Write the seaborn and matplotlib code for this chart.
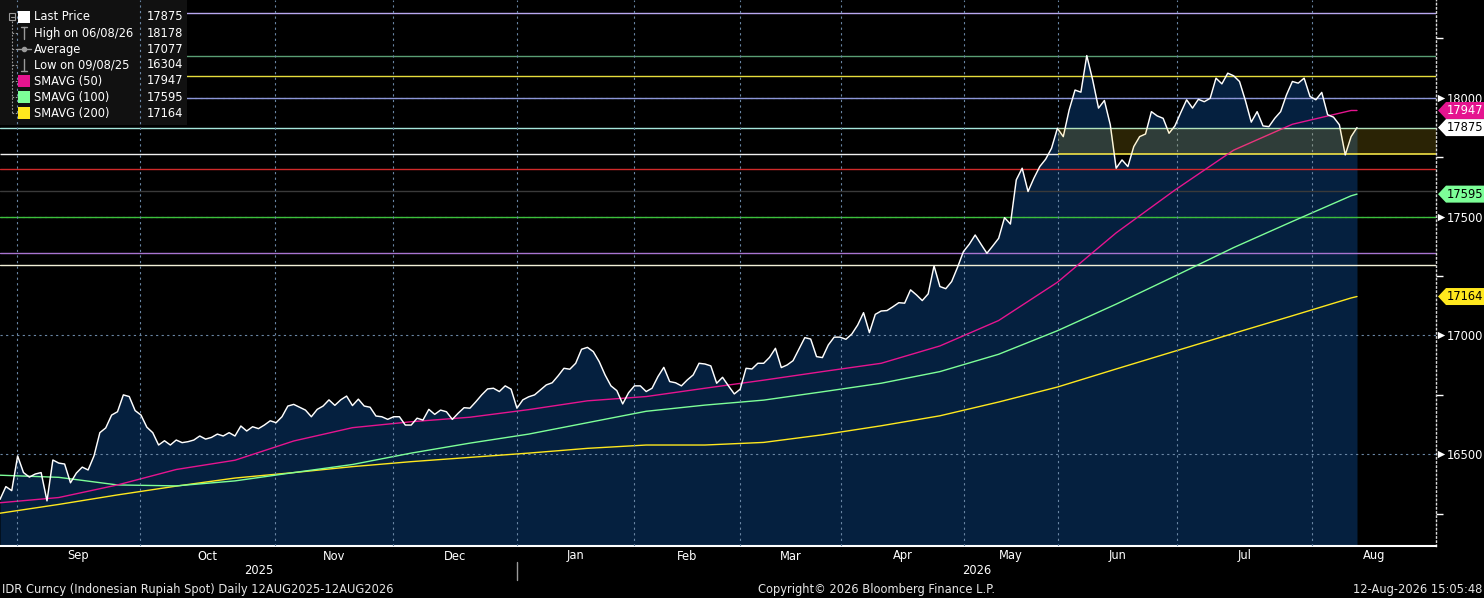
import numpy as np
import pandas as pd
import matplotlib
matplotlib.use("Agg")
import matplotlib.pyplot as plt
import seaborn as sns
from matplotlib.patches import Rectangle, Polygon
from matplotlib.lines import Line2D
from matplotlib.ticker import FixedLocator, NullFormatter

# IDR daily last price (one value per trading day)
price = [
    16310, 16364, 16347, 16493, 16423, 16404, 16417, 16423, 16304, 16476,
    16463, 16459, 16380, 16421, 16446, 16434, 16493, 16591, 16611, 16665,
    16679, 16750, 16743, 16684, 16665, 16614, 16591, 16539, 16557, 16539,
    16560, 16549, 16553, 16560, 16577, 16564, 16571, 16585, 16577, 16591,
    16577, 16619, 16598, 16616, 16608, 16623, 16641, 16633, 16658, 16703,
    16710, 16698, 16686, 16658, 16689, 16703, 16729, 16706, 16729, 16745,
    16705, 16732,
    16703, 16698, 16661, 16658, 16647, 16658, 16658, 16623, 16623, 16652,
    16644, 16689, 16668, 16686, 16679, 16647, 16673, 16696, 16694, 16721,
    16750, 16775, 16778, 16764, 16788, 16774, 16694, 16729, 16742, 16750,
    16771, 16792, 16801, 16830, 16862, 16858, 16883, 16942, 16950, 16932,
    16890, 16834, 16788, 16768, 16712, 16759, 16788, 16788, 16764, 16778,
    16827, 16866, 16806, 16801, 16788, 16813, 16834, 16883, 16880, 16872,
    16799, 16824, 16788, 16754, 16774, 16862, 16859, 16883, 16883, 16908,
    16946,
    16865, 16876, 16894, 16942, 16991, 16985, 16911, 16907, 16960, 16993,
    16993, 16984, 17006, 17044, 17096, 17012, 17089, 17103, 17105, 17121,
    17138, 17136, 17192, 17171, 17147, 17175, 17293, 17206, 17197, 17227,
    17287, 17353, 17384, 17423, 17384, 17346, 17377, 17409, 17496, 17469,
    17655, 17704, 17606, 17662, 17711, 17742,
    17788, 17872, 17837, 17949, 18033, 18024, 18178, 18076, 17957, 17989,
    17887, 17704, 17739, 17711, 17795, 17837, 17848, 17942, 17924, 17914,
    17851, 17882, 17938, 17992, 17957, 17994, 17984, 17998, 18083, 18059,
    18104, 18093, 18069, 17989, 17898, 17942, 17882, 17879, 17914, 17942,
    18013, 18069, 18062, 18083, 18006, 17992, 18023, 17929, 17919, 17887,
    17760, 17837, 17875,
]

# moving averages read every 10 trading days (plus the last day)
ma_days = list(range(0, len(price), 10)) + [len(price) - 1]
sma50 = [16296, 16318, 16371, 16436, 16475, 16556, 16612, 16637, 16656, 16688,
         16725, 16743, 16778, 16812, 16848, 16883, 16956, 17063, 17224, 17432,
         17612, 17780, 17889, 17947, 17947]
sma100 = [16412, 16403, 16371, 16367, 16388, 16423, 16457, 16505, 16547, 16585,
          16633, 16681, 16707, 16728, 16763, 16799, 16848, 16921, 17020, 17132,
          17250, 17370, 17480, 17588, 17595]
sma200 = [16252, 16289, 16329, 16366, 16400, 16423, 16448, 16469, 16487, 16505,
          16525, 16539, 16539, 16550, 16582, 16620, 16662, 16720, 16783, 16859,
          16934, 17009, 17083, 17158, 17164]

month_names = ["Sep", "Oct", "Nov", "Dec", "Jan", "Feb", "Mar", "Apr", "May",
               "Jun", "Jul", "Aug"]
month_starts = [2.9, 23.8, 46.8, 66.9, 88.0, 107.9, 126.0, 143.2, 164.1,
                180.1, 200.4, 223.3]
years = ["2025", "2026"]

# horizontal study lines (level, colour)
levels = [18358, 18178, 18093, 18000, 17875, 17702, 17609, 17500, 17348, 17297]
level_colors = ["#b8a8f0", "#5a9e74", "#e6dc3c", "#8c96d8", "#a6e6dc",
                "#d02a2a", "#3a3a3a", "#3cc03c", "#a874d0", "#f2f0d8"]
box_low, box_high = 17765, 17875

legend_labels = ["Last Price", "High on 06/08/26", "Average", "Low on 09/08/25",
                 "SMAVG (50)", "SMAVG (100)", "SMAVG (200)"]
legend_values = [17875, 18178, 17077, 16304, 17947, 17595, 17164]

C50, C100, C200 = "#e5148f", "#7dff98", "#ffe81e"
FILL = "#05203f"
GRID = "#6a86a4"

sns.set_theme(style="dark", rc={"axes.facecolor": "black",
                                "figure.facecolor": "black"})
plt.rcParams["font.family"] = ["DejaVu Sans"]
FS = 8.3

W, H = 1484, 598
fig = plt.figure(figsize=(W / 100, H / 100), dpi=100)
ax = fig.add_axes([0, 52 / H, 1436 / W, 546 / H])
ax.set_facecolor("black")


def fx(px):
    return px / W


def fy(py):
    return 1 - py / H


N = len(price)
x_max = (N - 1) * 1436 / 1357
y0, y1 = 16114, 18412
days = np.arange(N)
df = pd.DataFrame({"day": days, "price": price})
ma = pd.DataFrame({"day": ma_days, "s50": sma50, "s100": sma100, "s200": sma200})

# area under price
ax.fill_between(df["day"], df["price"], y0, color=FILL, lw=0, zorder=1)

# dotted grid
for v in [16500, 17000, 17500, 18000]:
    ax.axhline(v, color=GRID, lw=0.8, ls=(0, (2, 3)), zorder=1.5)
for m in month_starts:
    ax.axvline(m, color=GRID, lw=0.8, ls=(0, (2, 3)), zorder=9)

# study lines
for v, c in zip(levels, level_colors):
    ax.axhline(v, color=c, lw=1.0, zorder=2)
box_start = month_starts[9]
ax.hlines(box_low, 0, box_start, color="#f0f0f0", lw=1.0, zorder=2)
ax.hlines(box_low, box_start, x_max, color="#f0e44a", lw=1.2, zorder=2)
ax.fill_between([box_start, x_max], box_low, box_high, color="#ffd21e",
                alpha=0.17, lw=0, zorder=11)

# moving averages and price
sns.lineplot(data=ma, x="day", y="s200", ax=ax, color=C200, lw=1.0, zorder=3)
sns.lineplot(data=ma, x="day", y="s100", ax=ax, color=C100, lw=1.0, zorder=3)
sns.lineplot(data=ma, x="day", y="s50", ax=ax, color=C50, lw=1.0, zorder=3)
sns.lineplot(data=df, x="day", y="price", ax=ax, color="white", lw=1.05, zorder=10)

ax.set_xlim(0, x_max)
ax.set_ylim(y0, y1)
ax.set_xlabel("")
ax.set_ylabel("")
ax.grid(False)

# spines
for s in ["left", "top"]:
    ax.spines[s].set_visible(False)
ax.spines["bottom"].set_color("white")
ax.spines["bottom"].set_linewidth(1.5)
ax.spines["right"].set_color("#d8d8d8")
ax.spines["right"].set_linestyle((0, (1, 2)))
ax.spines["right"].set_linewidth(1.0)

# x axis: month ticks and labels
ax.set_xticks(month_starts)
ax.xaxis.set_major_formatter(NullFormatter())
ax.tick_params(axis="x", colors="white", length=6, width=1, direction="out")
bounds = month_starts + [x_max]
xt = ax.get_xaxis_transform()
for i, name in enumerate(month_names):
    ax.text((bounds[i] + bounds[i + 1]) / 2, -10 / 546, name, transform=xt,
            ha="center", va="center", color="white", fontsize=FS)
ax.text(month_starts[4] / 2, -25 / 546, years[0], transform=xt,
        ha="center", va="center", color="white", fontsize=FS)
ax.text((month_starts[4] + x_max) / 2, -25 / 546, years[1], transform=xt,
        ha="center", va="center", color="white", fontsize=FS)
ax.plot([month_starts[4]] * 2, [-16 / 546, -34 / 546], transform=xt,
        color="#9a9a9a", lw=1, clip_on=False)

# y axis on the right
majors = [16500, 17000, 17500, 18000]
ax.yaxis.tick_right()
ax.yaxis.set_major_locator(FixedLocator(majors))
ax.yaxis.set_minor_locator(FixedLocator([16250, 16750, 17250, 17750, 18250]))
ax.tick_params(axis="y", which="major", length=0, pad=8, labelcolor="white",
               labelsize=FS)
ax.tick_params(axis="y", which="minor", length=5, width=1, color="white",
               direction="out", right=True)
yt = ax.get_yaxis_transform()
ax.scatter([1 + 5 / 1436] * len(majors), majors, marker=">", s=28, color="white",
           transform=yt, clip_on=False, zorder=12, lw=0)

# value tags
unit = (y1 - y0) / 546
for v, fc, tc in [(17947, C50, "white"), (17875, "white", "black"),
                  (17595, C100, "black"), (17164, C200, "black")]:
    h = 8.5 * unit
    xs = np.array([1438, 1446, 1484, 1484, 1446]) / 1436
    ys = [v, v + h, v + h, v - h, v - h]
    ax.add_patch(Polygon(np.column_stack([xs, ys]), closed=True, transform=yt,
                         fc=fc, ec="none", clip_on=False, zorder=13))
    ax.text(1447 / 1436, v, str(v), transform=yt, ha="left", va="center",
            color=tc, fontsize=FS, clip_on=False, zorder=14)

# legend panel
ax.add_patch(Rectangle((0, fy(125)), fx(187), 125 / H, transform=fig.transFigure,
                       fc="#111111", ec="none", zorder=8, clip_on=False))
rows = [16.7, 33.3, 49.3, 65, 81, 97.3, 113.3]
grey = "#9a9a9a"
fig.add_artist(Rectangle((fx(9), fy(20)), 6 / W, 7 / H, fill=False, ec=grey, lw=0.8))
fig.add_artist(Line2D([fx(10.5), fx(13.5)], [fy(16.5)] * 2, color=grey, lw=0.8))
fig.add_artist(Line2D([fx(12), fx(12)], [fy(21), fy(rows[-1])], color=grey,
                      lw=0.8, ls=(0, (1.5, 1.5))))
for i, (lab, val) in enumerate(zip(legend_labels, legend_values)):
    r = rows[i]
    if i > 0:
        fig.add_artist(Line2D([fx(12), fx(17)], [fy(r)] * 2, color=grey,
                              lw=0.8, ls=(0, (1.5, 1.5))))
    if i == 0:
        fig.add_artist(Rectangle((fx(18), fy(r + 6)), 12 / W, 12 / H, fc="white", ec="none"))
    elif i == 1:
        fig.add_artist(Line2D([fx(24), fx(24)], [fy(r - 6), fy(r + 6)], color=grey, lw=1))
        fig.add_artist(Line2D([fx(21), fx(27)], [fy(r - 6)] * 2, color=grey, lw=1))
    elif i == 2:
        fig.add_artist(Line2D([fx(17), fx(31)], [fy(r)] * 2, color=grey, lw=1))
        fig.add_artist(Line2D([fx(24)], [fy(r)], color=grey, marker="o", ms=3, lw=0))
    elif i == 3:
        fig.add_artist(Line2D([fx(24), fx(24)], [fy(r - 6), fy(r + 6)], color=grey, lw=1))
        fig.add_artist(Line2D([fx(21), fx(27)], [fy(r + 6)] * 2, color=grey, lw=1))
    else:
        c = [C50, C100, C200][i - 4]
        fig.add_artist(Rectangle((fx(18), fy(r + 6)), 12 / W, 12 / H, fc=c, ec="none"))
    fig.text(fx(34), fy(r), lab, color="white", fontsize=FS, va="center", ha="left")
    fig.text(fx(147), fy(r), str(val), color="white", fontsize=FS, va="center", ha="left")

# footer
fig.text(fx(2), fy(590), "IDR Curncy (Indonesian Rupiah Spot) Daily 12AUG2025-12AUG2026",
         color="#e6e6e6", fontsize=FS, va="center", ha="left")
fig.text(fx(877), fy(590), "Copyright\u00a9 2026 Bloomberg Finance L.P.",
         color="#e6e6e6", fontsize=FS, va="center", ha="center")
fig.text(fx(1482), fy(590), "12-Aug-2026 15:05:48", color="#e6e6e6",
         fontsize=FS, va="center", ha="right")

fig.savefig("out.png", dpi=100, facecolor="black")
